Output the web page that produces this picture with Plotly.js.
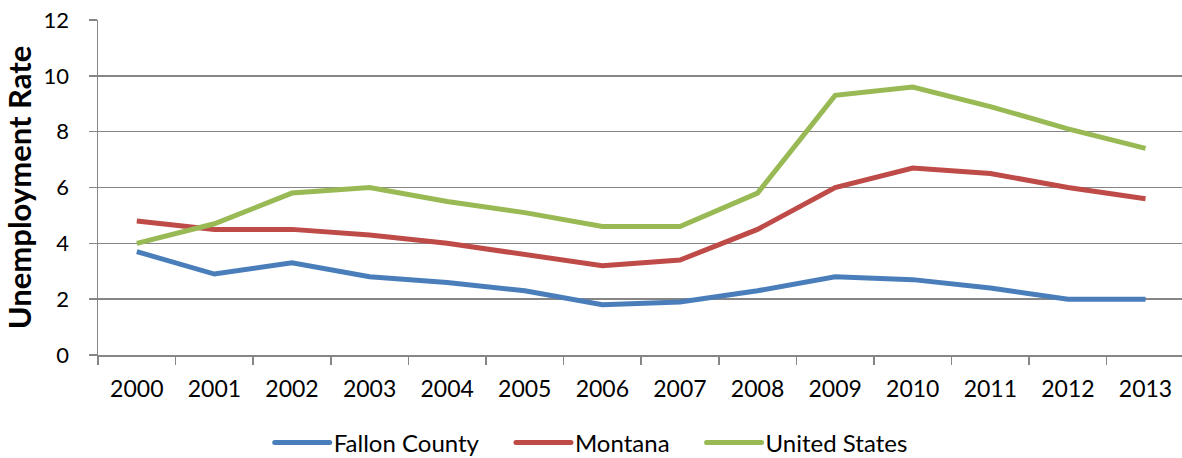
<!DOCTYPE html>
<html>
<head>
<meta charset="utf-8">
<script src="https://cdn.plot.ly/plotly-3.0.1.min.js"></script>
<style>
  html, body { margin: 0; padding: 0; background: #fff; }
  #chart { width: 1182px; height: 458px; }
</style>
</head>
<body>
<div id="chart"></div>
<script>
// Annual unemployment rate (%)
const years = ['2000','2001','2002','2003','2004','2005','2006','2007','2008','2009','2010','2011','2012','2013'];
const fallonCounty = [3.7, 2.9, 3.3, 2.8, 2.6, 2.3, 1.8, 1.9, 2.3, 2.8, 2.7, 2.4, 2.0, 2.0];
const montana      = [4.8, 4.5, 4.5, 4.3, 4.0, 3.6, 3.2, 3.4, 4.5, 6.0, 6.7, 6.5, 6.0, 5.6];
const unitedStates = [4.0, 4.7, 5.8, 6.0, 5.5, 5.1, 4.6, 4.6, 5.8, 9.3, 9.6, 8.9, 8.1, 7.4];
const seriesNames = ['Fallon County', 'Montana', 'United States'];
const yTicks = [0, 2, 4, 6, 8, 10, 12];

const colors = ['#4A7EBB', '#BE4B48', '#98B954'];
const font = 'Lato, "Open Sans", sans-serif';
const gray = '#868686';

const traces = [fallonCounty, montana, unitedStates].map((vals, i) => ({
  type: 'scatter',
  mode: 'lines',
  x: years,
  y: vals,
  name: seriesNames[i],
  line: { color: colors[i], width: 5 }
}));

const layout = {
  width: 1182,
  height: 458,
  margin: { l: 98, r: 0, t: 20, b: 103 },
  paper_bgcolor: '#fff',
  plot_bgcolor: '#fff',
  font: { family: font, size: 22, color: '#000' },
  showlegend: true,
  legend: {
    orientation: 'h',
    x: 0.5, xanchor: 'center',
    yref: 'container', y: 0.033, yanchor: 'middle',
    bgcolor: 'rgba(0,0,0,0)',
    borderwidth: 0,
    font: { family: font, size: 24, color: '#000' }
  },
  xaxis: {
    type: 'category',
    range: [-0.5, 13.47],
    tickson: 'boundaries',
    ticks: 'outside',
    ticklen: 8,
    tickcolor: gray,
    tickwidth: 1.5,
    showline: true,
    linecolor: gray,
    linewidth: 1.5,
    showgrid: false,
    ticklabelstandoff: 13,
    tickfont: { family: font, size: 23, color: '#000' }
  },
  yaxis: {
    range: [0, 12],
    tickvals: yTicks,
    ticktext: yTicks.map(String),
    ticks: 'outside',
    ticklen: 8,
    tickcolor: gray,
    tickwidth: 1.5,
    showline: true,
    linecolor: gray,
    linewidth: 1.5,
    showgrid: true,
    gridcolor: gray,
    gridwidth: 1.5,
    zeroline: false,
    ticklabelstandoff: 15,
    tickfont: { family: font, size: 22, color: '#000' },
    title: {
      text: '<b>Unemployment Rate</b>',
      font: { family: font, size: 31, color: '#000' },
      standoff: 4
    }
  }
};

// Lay out the legend entries with long line samples and even spacing
function arrangeLegend(gd) {
  const legend = gd.querySelector('g.legend');
  if (!legend) return;
  const scroll = legend.querySelector('.scrollbox');
  if (scroll) scroll.removeAttribute('clip-path');
  const items = Array.from(legend.querySelectorAll('g.traces'));
  const lineLen = 55, textGap = 4, itemGap = 37;
  const widths = items.map(g => g.querySelector('text.legendtext').getComputedTextLength());
  const total = widths.reduce((s, w) => s + lineLen + textGap + w, 0) + itemGap * (items.length - 1);
  const m = /translate\(\s*([-\d.]+)[ ,]+([-\d.]+)\s*\)/.exec(legend.getAttribute('transform') || '');
  const ly = m ? parseFloat(m[2]) : 0;
  legend.setAttribute('transform', `translate(0,${ly})`);
  let x = (layout.width - total) / 2;
  items.forEach((g, i) => {
    const tm = /translate\(\s*([-\d.]+)[ ,]+([-\d.]+)\s*\)/.exec(g.getAttribute('transform') || '');
    const ty = tm ? parseFloat(tm[2]) : 0;
    g.setAttribute('transform', `translate(${x},${ty})`);
    g.querySelectorAll('.legendlines path').forEach(p => {
      p.setAttribute('d', `M0,0h${lineLen}`);
      p.style.strokeLinecap = 'round';
    });
    const t = g.querySelector('text.legendtext');
    t.setAttribute('x', lineLen + textGap);
    t.querySelectorAll('tspan[x]').forEach(s => s.setAttribute('x', lineLen + textGap));
    x += lineLen + textGap + widths[i] + itemGap;
  });
}

Plotly.newPlot('chart', traces, layout, { displayModeBar: false, staticPlot: true })
  .then(gd => arrangeLegend(gd));
</script>
</body>
</html>
